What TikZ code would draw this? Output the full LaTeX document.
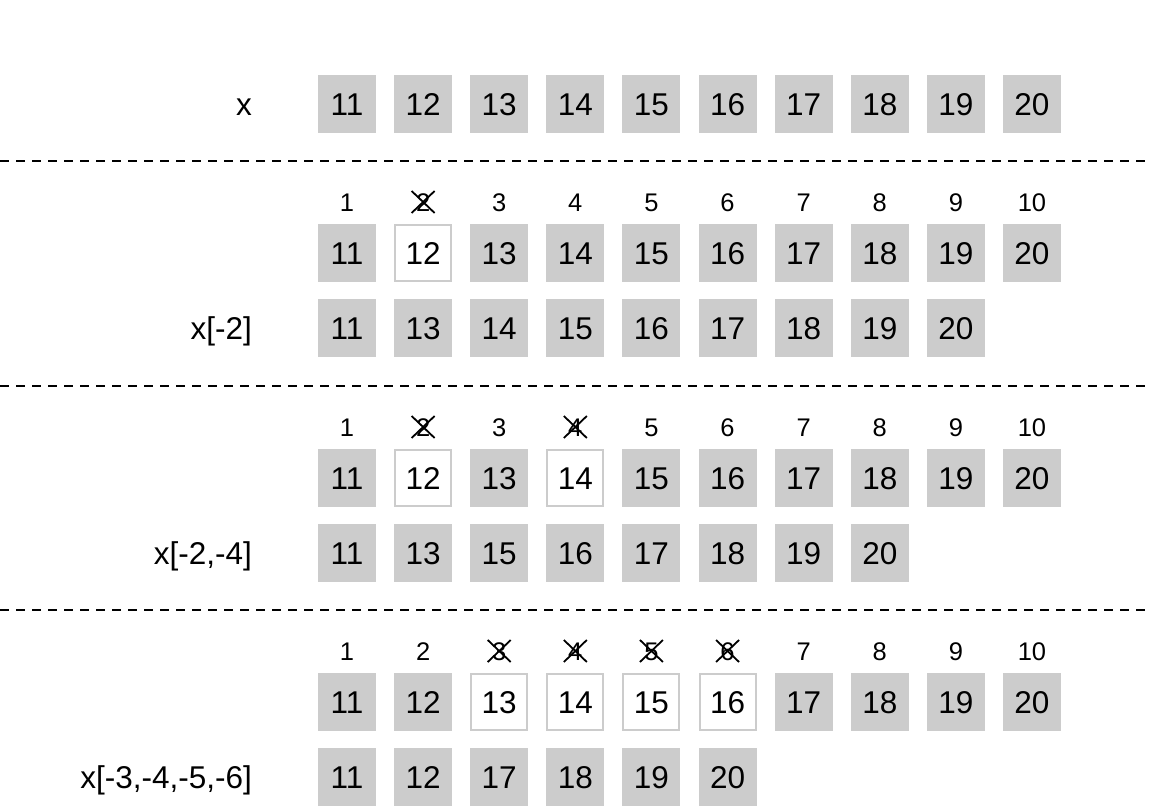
\documentclass[tikz,border=0pt]{standalone}
\usepackage{fontspec}
\setmainfont{Liberation Sans}
\definecolor{cellgray}{HTML}{CCCCCC}
\begin{document}
\begin{tikzpicture}[x=1pt,y=-1pt,
  cell/.style={minimum width=58pt,minimum height=58pt,inner sep=0pt,fill=cellgray,
    font=\fontsize{31.5}{31.5}\selectfont,text height=22.6pt,text depth=0pt},
  gone/.style={cell,fill=white,draw=cellgray,line width=2pt,minimum width=56pt,minimum height=56pt},
  idx/.style={inner sep=0pt,font=\fontsize{25.5}{25.5}\selectfont,text height=18.3pt,text depth=0pt},
  lab/.style={anchor=east,inner sep=0pt,font=\fontsize{31.5}{31.5}\selectfont,text height=22.6pt,text depth=0pt},
  sep/.style={line width=1.5pt,dash pattern=on 9pt off 7pt},
  cross/.style={line width=1.8pt,line cap=butt}]
\useasboundingbox (0,0) rectangle (1152,806);
% top row
\node[lab] (lx) at (252,104) {x};
\foreach \i in {1,...,10}{
  \pgfmathtruncatemacro{\v}{10+\i}
  \node[cell] (t\i) at ({347+76.11*(\i-1)},104) {\v};
}
% separators
\coordinate (d1a) at (0,161); \coordinate (d1b) at (1152,161);
\coordinate (d2a) at (0,386); \coordinate (d2b) at (1152,386);
\coordinate (d3a) at (0,610); \coordinate (d3b) at (1152,610);
\draw[sep] (d1a) -- (d1b);
\draw[sep] (d2a) -- (d2b);
\draw[sep] (d3a) -- (d3b);
% sections
\foreach \s/\yi/\yr/\yq/\rem/\res/\lbl in {
  a/202/253/328/{2}/{11,13,14,15,16,17,18,19,20}/{x[-2]},
  b/427/478/553/{2,4}/{11,13,15,16,17,18,19,20}/{x[-2,-4]},
  c/651/702/777/{3,4,5,6}/{11,12,17,18,19,20}/{x[-3,-4,-5,-6]}}{
  \foreach \i in {1,...,10}{
    \pgfmathtruncatemacro{\v}{10+\i}
    \node[idx] (\s i\i) at ({347+76.11*(\i-1)},\yi) {\i};
    \node[cell] (\s r\i) at ({347+76.11*(\i-1)},\yr) {\v};
  }
  \foreach \i in \rem{
    \node[gone] (\s g\i) at (\s r\i) {\pgfmathtruncatemacro{\v}{10+\i}\v};
    \draw[cross] ([shift={(-11.5,-11)}]\s i\i.center) -- ([shift={(11.5,11)}]\s i\i.center);
    \draw[cross] ([shift={(-11.5,11)}]\s i\i.center) -- ([shift={(11.5,-11)}]\s i\i.center);
  }
  \node[lab] (\s l) at (252,\yq) {\lbl};
  \foreach \v [count=\i] in \res{
    \node[cell] (\s q\i) at ({347+76.11*(\i-1)},\yq) {\v};
  }
}
\end{tikzpicture}
\end{document}
